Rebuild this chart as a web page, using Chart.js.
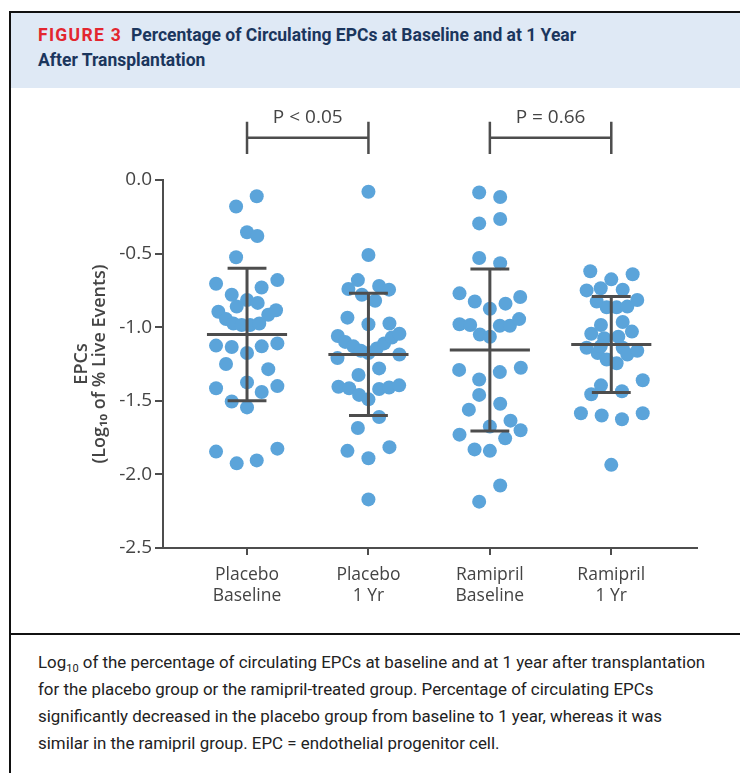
<!DOCTYPE html>
<html>
<head>
<meta charset="utf-8">
<script src="https://cdn.jsdelivr.net/npm/chart.js@4.4.1/dist/chart.umd.min.js"></script>
<style>
    body {
        margin: 0;
        width: 740px;
        height: 773px;
        overflow: hidden;
        background: #fff;
        font-family: Roboto, sans-serif;
        position: relative;
    }
    .frame {
        position: absolute;
        left: 9px;
        top: 11px;
        width: 740px;
        height: 780px;
        border-left: 2px solid #111;
        border-top: 2px solid #111;
    }
    .header {
        position: absolute;
        left: 11px;
        top: 13px;
        width: 729px;
        height: 75px;
        background: #dfe9f5;
    }
    .header-text {
        position: absolute;
        left: 27px;
        top: 10px;
        font-size: 17.5px;
        font-weight: bold;
        line-height: 25px;
        color: #1b365d;
        white-space: nowrap;
    }
    .fig-num {
        color: #e3262f;
        letter-spacing: 1.3px;
        margin-right: 9px;
    }
    .chart-box {
        position: absolute;
        left: 0;
        top: 88px;
        width: 740px;
        height: 545px;
    }
    .divider {
        position: absolute;
        left: 9px;
        top: 633px;
        width: 731px;
        height: 2px;
        background: #111;
    }
    .caption {
        position: absolute;
        left: 38px;
        top: 649px;
        width: 700px;
        font-size: 16.9px;
        line-height: 27px;
        color: #222;
        white-space: nowrap;
    }
    .caption sub {
        font-size: 11px;
        line-height: 0;
    }
</style>
</head>
<body>
<div class="frame"></div>
<div class="header">
    <div class="header-text">
        <span class="fig-num">FIGURE 3</span>Percentage of Circulating EPCs at Baseline and at 1 Year<br>After Transplantation
    </div>
</div>
<div class="chart-box"><canvas id="epcChart"></canvas></div>
<div class="divider"></div>
<div class="caption">
    Log<sub>10</sub> of the percentage of circulating EPCs at baseline and at 1 year after transplantation<br>
    for the placebo group or the ramipril-treated group. Percentage of circulating EPCs<br>
    significantly decreased in the placebo group from baseline to 1 year, whereas it was<br>
    similar in the ramipril group. EPC = endothelial progenitor cell.
</div>

<script>
// Groups on the x axis
const groupLabels = [['Placebo', 'Baseline'], ['Placebo', '1 Yr'], ['Ramipril', 'Baseline'], ['Ramipril', '1 Yr']];
const groupPositions = [1, 2, 3, 4];

// Individual log10 values per group
const placeboBaseline = [-0.11, -0.18, -0.355, -0.38, -0.525, -0.705, -0.68, -0.73, -0.78, -0.815, -0.86, -0.835, -0.895, -0.885, -0.915, -0.945, -0.975, -0.985, -0.985, -0.975, -1.125, -1.135, -1.175, -1.13, -1.11, -1.25, -1.285, -1.375, -1.415, -1.44, -1.40, -1.505, -1.545, -1.845, -1.825, -1.925, -1.905];
const placeboBaselineJitter = [0.08, -0.09, 0, 0.085, -0.09, -0.255, 0.25, 0.12, -0.126, 0, -0.085, 0.088, -0.236, 0.239, 0.175, -0.173, -0.113, -0.044, 0.025, 0.101, -0.255, -0.126, 0, 0.121, 0.25, -0.173, 0.175, 0, -0.255, 0.121, 0.25, -0.126, 0, -0.255, 0.25, -0.085, 0.08];

const placebo1Yr = [-0.08, -0.51, -0.68, -0.74, -0.78, -0.72, -0.745, -0.82, -0.935, -0.98, -0.975, -1.06, -1.10, -1.13, -1.16, -1.175, -1.145, -1.11, -1.07, -1.045, -1.21, -1.185, -1.325, -1.28, -1.405, -1.415, -1.46, -1.49, -1.42, -1.41, -1.395, -1.61, -1.685, -1.84, -1.815, -1.89, -2.17];
const placebo1YrJitter = [0, 0, -0.087, -0.165, -0.054, 0.088, 0.17, 0.055, -0.173, 0, 0.173, -0.252, -0.192, -0.124, -0.063, 0, 0.069, 0.129, 0.193, 0.255, -0.255, 0.255, -0.082, 0.088, -0.247, -0.159, -0.077, 0, 0.088, 0.17, 0.253, 0.088, -0.087, -0.173, 0.173, 0, 0];

const ramiprilBaseline = [-0.085, -0.115, -0.295, -0.265, -0.53, -0.565, -0.77, -0.825, -0.875, -0.84, -0.795, -0.98, -0.985, -1.05, -1.065, -0.99, -0.99, -0.945, -1.29, -1.355, -1.305, -1.275, -1.46, -1.56, -1.52, -1.635, -1.675, -1.73, -1.70, -1.755, -1.83, -1.84, -2.075, -2.185];
const ramiprilBaselineJitter = [-0.088, 0.085, -0.088, 0.085, -0.088, 0.085, -0.25, -0.124, 0, 0.129, 0.25, -0.25, -0.162, -0.082, 0, 0.082, 0.165, 0.241, -0.253, -0.088, 0.082, 0.255, -0.088, -0.173, 0.085, 0.17, 0, -0.25, 0.253, 0.126, -0.126, 0, 0.085, -0.088];

const ramipril1Yr = [-0.62, -0.675, -0.64, -0.75, -0.735, -0.745, -0.825, -0.815, -0.865, -0.865, -0.86, -0.985, -0.965, -1.045, -1.03, -1.075, -1.065, -1.14, -1.175, -1.13, -1.14, -1.185, -1.16, -1.22, -1.245, -1.36, -1.395, -1.455, -1.435, -1.585, -1.60, -1.625, -1.585, -1.935];
const ramipril1YrJitter = [-0.173, 0, 0.176, -0.203, -0.087, 0.094, -0.12, 0.214, -0.038, 0.044, 0.132, -0.085, 0.094, -0.165, 0.17, -0.058, 0.058, -0.203, -0.112, -0.087, 0.094, 0.132, 0.214, -0.038, 0.044, 0.259, -0.085, -0.165, 0.088, -0.25, -0.079, 0.088, 0.259, 0];

// Mean and SD per group
const groupMeans = [-1.05, -1.185, -1.155, -1.118];
const groupSD = [0.45, 0.415, 0.55, 0.326];

// Significance brackets
const bracketPairs = [[1, 2], [3, 4]];
const bracketLabels = ['P < 0.05', 'P = 0.66'];

const allValues = [placeboBaseline, placebo1Yr, ramiprilBaseline, ramipril1Yr];
const allJitter = [placeboBaselineJitter, placebo1YrJitter, ramiprilBaselineJitter, ramipril1YrJitter];

const dotColor = '#5ba4da';
const lineColor = '#4d4d4d';
const textColor = '#444';
const fontFamily = "'Open Sans', 'Noto Sans', sans-serif";

// Build scatter datasets
const datasets = allValues.map((values, i) => ({
    label: groupLabels[i].join(' '),
    data: values.map((v, j) => ({ x: groupPositions[i] + allJitter[i][j], y: v })),
    backgroundColor: dotColor,
    borderWidth: 0,
    pointRadius: 7,
    pointHoverRadius: 7
}));

// Mean line and SD whiskers
const errorBarPlugin = {
    id: 'errorBars',
    afterDatasetsDraw(chart) {
        const { ctx, scales: { x, y } } = chart;
        ctx.save();
        ctx.strokeStyle = lineColor;
        ctx.lineWidth = 3;
        groupPositions.forEach((pos, i) => {
            const cx = x.getPixelForValue(pos);
            const meanHalf = x.getPixelForValue(pos + 0.33) - cx;
            const capHalf = x.getPixelForValue(pos + 0.16) - cx;
            const yMean = y.getPixelForValue(groupMeans[i]);
            const yTop = y.getPixelForValue(groupMeans[i] + groupSD[i]);
            const yBot = y.getPixelForValue(groupMeans[i] - groupSD[i]);

            ctx.beginPath();
            ctx.moveTo(cx, yTop);
            ctx.lineTo(cx, yBot);
            ctx.moveTo(cx - capHalf, yTop);
            ctx.lineTo(cx + capHalf, yTop);
            ctx.moveTo(cx - capHalf, yBot);
            ctx.lineTo(cx + capHalf, yBot);
            ctx.moveTo(cx - meanHalf, yMean);
            ctx.lineTo(cx + meanHalf, yMean);
            ctx.stroke();
        });
        ctx.restore();
    }
};

// P value brackets above the plot
const bracketPlugin = {
    id: 'brackets',
    afterDraw(chart) {
        const { ctx, scales: { x, y } } = chart;
        ctx.save();
        ctx.strokeStyle = lineColor;
        ctx.lineWidth = 2.5;
        ctx.fillStyle = textColor;
        ctx.font = "19px " + fontFamily;
        ctx.textAlign = 'center';
        ctx.textBaseline = 'middle';
        bracketPairs.forEach((pair, i) => {
            const x1 = x.getPixelForValue(pair[0]);
            const x2 = x.getPixelForValue(pair[1]);
            const yTop = y.getPixelForValue(0.395);
            const yMid = y.getPixelForValue(0.287);
            const yBot = y.getPixelForValue(0.177);
            ctx.beginPath();
            ctx.moveTo(x1, yTop);
            ctx.lineTo(x1, yBot);
            ctx.moveTo(x2, yTop);
            ctx.lineTo(x2, yBot);
            ctx.moveTo(x1, yMid);
            ctx.lineTo(x2, yMid);
            ctx.stroke();
            ctx.fillText(bracketLabels[i], (x1 + x2) / 2, y.getPixelForValue(0.425));
        });
        ctx.restore();
    }
};

const ctx = document.getElementById('epcChart').getContext('2d');
new Chart(ctx, {
    type: 'scatter',
    data: { datasets: datasets },
    options: {
        responsive: true,
        maintainAspectRatio: false,
        animation: false,
        layout: {
            padding: { top: 92, right: 43, bottom: 0, left: 72 }
        },
        plugins: {
            legend: { display: false },
            tooltip: { enabled: false }
        },
        scales: {
            x: {
                type: 'linear',
                min: 0.308,
                max: 4.706,
                afterBuildTicks: (axis) => {
                    axis.ticks = groupPositions.map(v => ({ value: v }));
                },
                afterFit: (scale) => {
                    scale.height = 85;
                },
                grid: {
                    drawOnChartArea: false,
                    drawTicks: true,
                    tickLength: 7,
                    color: lineColor,
                    lineWidth: 2
                },
                border: { display: true, color: lineColor, width: 2 },
                ticks: {
                    color: textColor,
                    padding: 10,
                    font: { family: fontFamily, size: 17.5, lineHeight: 1.2 },
                    callback: (value) => groupLabels[value - 1]
                }
            },
            y: {
                min: -2.5,
                max: 0,
                afterFit: (scale) => {
                    scale.width = 91;
                },
                grid: {
                    drawOnChartArea: false,
                    drawTicks: true,
                    tickLength: 8,
                    color: lineColor,
                    lineWidth: 2
                },
                border: { display: true, color: lineColor, width: 2 },
                ticks: {
                    stepSize: 0.5,
                    color: textColor,
                    padding: 3,
                    font: { family: fontFamily, size: 19 },
                    callback: (value) => value.toFixed(1)
                },
                title: {
                    display: true,
                    text: ['EPCs', '(Log\u2081\u2080 of % Live Events)'],
                    color: textColor,
                    padding: 0,
                    font: { family: fontFamily, size: 18, weight: '600', lineHeight: 1.05 }
                }
            }
        }
    },
    plugins: [errorBarPlugin, bracketPlugin]
});
</script>
</body>
</html>
